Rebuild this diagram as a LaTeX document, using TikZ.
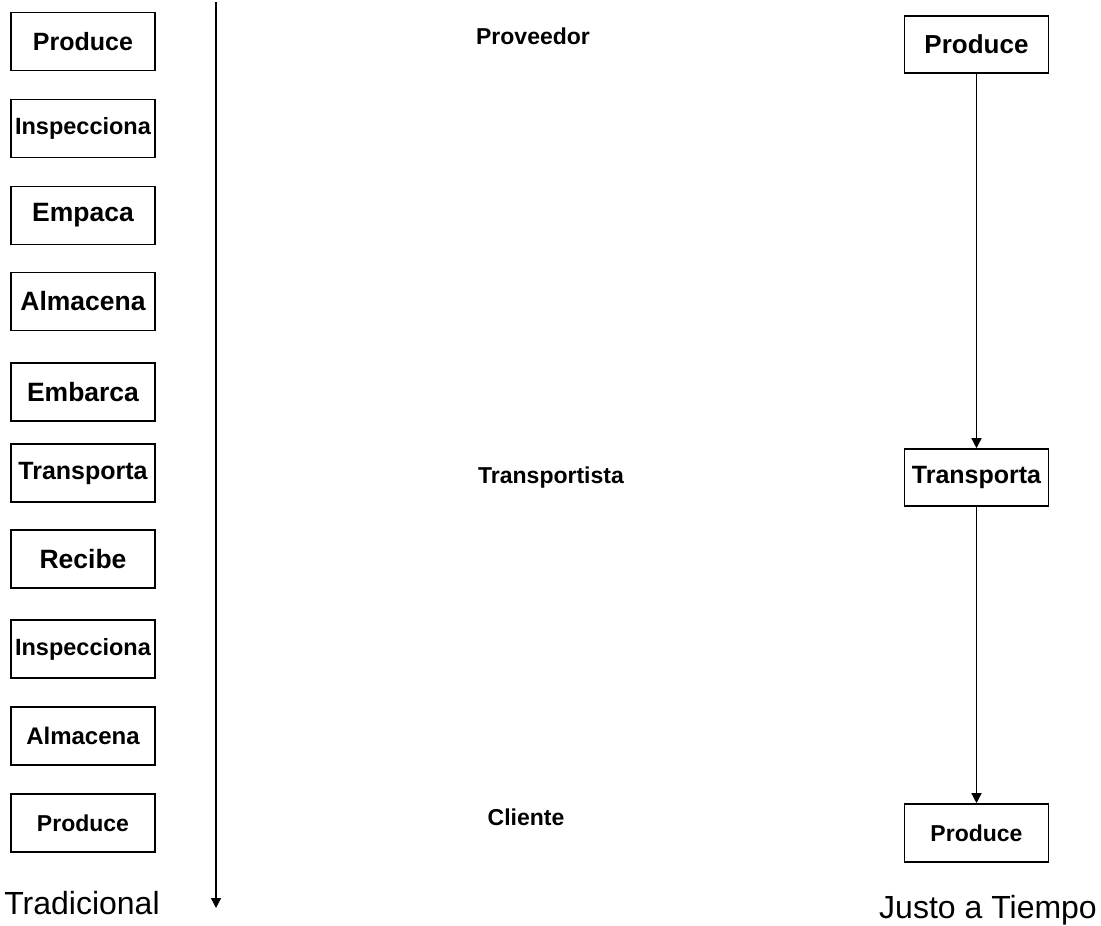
\documentclass[tikz,border=0pt]{standalone}
\usepackage{fontspec}
\setmainfont{Liberation Sans}
\usetikzlibrary{arrows.meta}
\begin{document}
\begin{tikzpicture}[x=1pt,y=-1pt,
  stepbox/.style={draw,line width=1.6pt,minimum width=144pt,minimum height=58pt,inner sep=0pt,font=\bfseries\fontsize{25}{30}\selectfont},
  rolelabel/.style={font=\bfseries\fontsize{23}{28}\selectfont,inner sep=0pt},
  title/.style={font=\fontsize{32}{38}\selectfont,inner sep=0pt},
  flow/.style={line width=1.4pt,-{Triangle[length=10pt,width=10pt]}}]
\useasboundingbox (0,0) rectangle (1101,926);

% traditional sequence of steps
\node[stepbox] (t1) at (83,41.5) {Produce};
\node[stepbox,font=\bfseries\fontsize{23.5}{28}\selectfont] (t2) at (83,128.5) {Inspecciona};
\node[stepbox,font=\bfseries\fontsize{26.5}{30}\selectfont] (t3) at (83,215.5) {Empaca};
\node[stepbox,font=\bfseries\fontsize{26.5}{30}\selectfont] (t4) at (83,301.5) {Almacena};
\node[stepbox,font=\bfseries\fontsize{26.5}{30}\selectfont] (t5) at (83,392) {Embarca};
\node[stepbox] (t6) at (83,473) {Transporta};
\node[stepbox,font=\bfseries\fontsize{26.5}{30}\selectfont] (t7) at (83,559) {Recibe};
\node[stepbox,font=\bfseries\fontsize{23.5}{28}\selectfont] (t8) at (83,649) {Inspecciona};
\node[stepbox,font=\bfseries\fontsize{24}{28}\selectfont] (t9) at (83,736) {Almacena};
\node[stepbox,font=\bfseries\fontsize{23}{28}\selectfont] (t10) at (83,823) {Produce};

% time axis
\coordinate (axtop) at (216,2);
\coordinate (axbot) at (216,908);
\draw[flow] (axtop) -- (axbot);

% participants
\node[rolelabel] (prov) at (533,36) {Proveedor};
\node[rolelabel] (trans) at (551,478) {Transportista};
\node[rolelabel] (cli) at (526,817) {Cliente};

% just-in-time sequence
\node[stepbox,minimum height=57pt,font=\bfseries\fontsize{26}{30}\selectfont] (j1) at (976.5,44.5) {Produce};
\node[stepbox,minimum height=57pt] (j2) at (976.5,477.5) {Transporta};
\node[stepbox,minimum height=58pt,font=\bfseries\fontsize{23}{28}\selectfont] (j3) at (976.5,833) {Produce};
\draw[flow] (j1) -- (j2);
\draw[flow] (j2) -- (j3);

% titles
\node[title] (trad) at (82,903) {Tradicional};
\node[title] (jit) at (988,910) {Justo a Tiempo};
\end{tikzpicture}
\end{document}
